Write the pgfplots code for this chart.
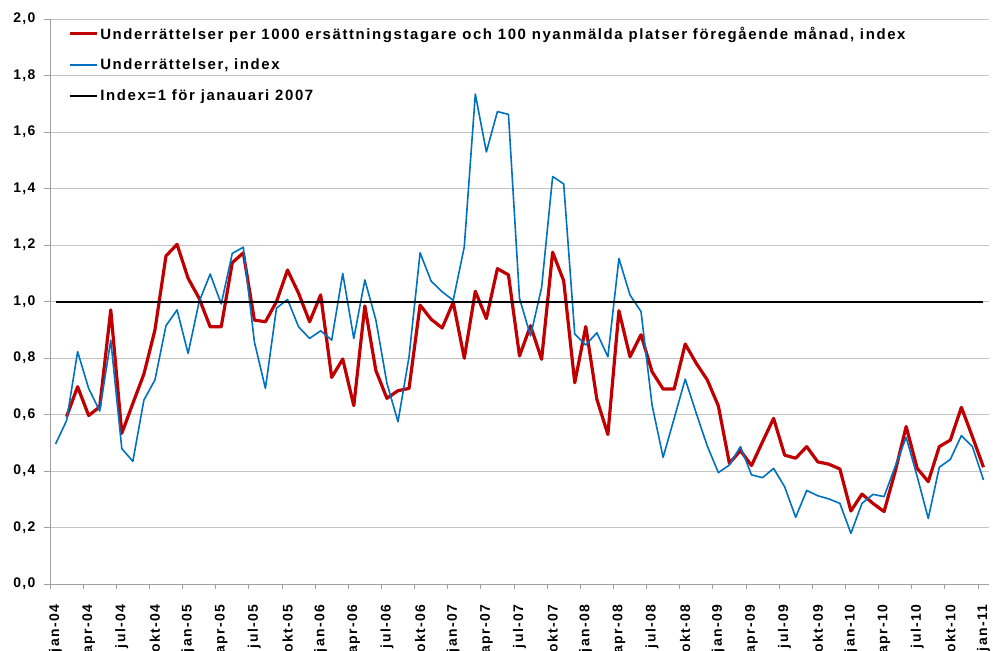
\documentclass[border=0pt]{standalone}
\usepackage{fontspec}
\setmainfont{Liberation Sans}
\newfontfamily\tickfont[LetterSpace=10]{Liberation Sans}
\newfontfamily\legfont[LetterSpace=10.8]{Liberation Sans}
\usepackage{pgfplots}
\usepackage{pgfplotstable}
\pgfplotsset{compat=1.18}
\definecolor{cred}{HTML}{C00000}
\definecolor{cblue}{HTML}{0070C0}
\definecolor{cgrid}{HTML}{C4C4C4}
\definecolor{caxis}{HTML}{A0A0A0}
\pgfplotstableread{
i v
1 0.593
2 0.699
3 0.597
4 0.628
5 0.971
6 0.534
7 0.640
8 0.744
9 0.900
10 1.162
11 1.203
12 1.083
13 1.012
14 0.911
15 0.911
16 1.138
17 1.173
18 0.935
19 0.929
20 1.000
21 1.112
22 1.030
23 0.929
24 1.024
25 0.732
26 0.797
27 0.632
28 0.985
29 0.756
30 0.658
31 0.685
32 0.693
33 0.988
34 0.938
35 0.907
36 0.998
37 0.800
38 1.037
39 0.940
40 1.117
41 1.095
42 0.808
43 0.915
44 0.796
45 1.175
46 1.074
47 0.713
48 0.912
49 0.655
50 0.530
51 0.968
52 0.805
53 0.883
54 0.752
55 0.691
56 0.691
57 0.850
58 0.782
59 0.723
60 0.631
61 0.428
62 0.473
63 0.420
64 0.504
65 0.587
66 0.457
67 0.446
68 0.487
69 0.433
70 0.425
71 0.408
72 0.259
73 0.319
74 0.286
75 0.257
76 0.398
77 0.558
78 0.410
79 0.363
80 0.487
81 0.510
82 0.626
83 0.522
84 0.414
}\redtab
\pgfplotstableread{
i v
0 0.496
1 0.579
2 0.823
3 0.693
4 0.613
5 0.864
6 0.480
7 0.435
8 0.652
9 0.723
10 0.915
11 0.971
12 0.817
13 1.000
14 1.098
15 0.992
16 1.171
17 1.193
18 0.858
19 0.693
20 0.977
21 1.008
22 0.911
23 0.870
24 0.897
25 0.864
26 1.100
27 0.870
28 1.077
29 0.935
30 0.711
31 0.575
32 0.805
33 1.173
34 1.073
35 1.035
36 1.005
37 1.194
38 1.735
39 1.530
40 1.673
41 1.663
42 1.012
43 0.879
44 1.050
45 1.443
46 1.417
47 0.886
48 0.847
49 0.890
50 0.805
51 1.153
52 1.024
53 0.965
54 0.634
55 0.449
56 0.587
57 0.726
58 0.605
59 0.489
60 0.395
61 0.422
62 0.487
63 0.387
64 0.377
65 0.410
66 0.345
67 0.237
68 0.332
69 0.313
70 0.302
71 0.286
72 0.180
73 0.286
74 0.318
75 0.310
76 0.416
77 0.520
78 0.381
79 0.233
80 0.414
81 0.442
82 0.526
83 0.487
84 0.369
}\bluetab
\begin{document}
\begin{tikzpicture}
\begin{axis}[
  scale only axis, width=939bp, height=565bp,
  xmin=-0.5, xmax=84.5, ymin=0, ymax=2,
  axis x line=bottom, axis y line=left,
  x axis line style={-, draw=caxis, line width=0.8bp},
  y axis line style={-, draw=caxis, line width=0.8bp},
  ytick={0,0.2,0.4,0.6,0.8,1,1.2,1.4,1.6,1.8,2},
  ymajorgrids, grid style={cgrid, line width=0.8bp},
  tick align=outside, major tick length=6bp, minor tick length=5bp,
  tick style={caxis, line width=0.8bp},
  every major x tick/.append style={draw=none},
  xtick={0,3,...,84},
  minor xtick={-0.5,2.5,...,83.5},
  xticklabels={jan-04,apr-04,jul-04,okt-04,jan-05,apr-05,jul-05,okt-05,jan-06,apr-06,jul-06,okt-06,jan-07,apr-07,jul-07,okt-07,jan-08,apr-08,jul-08,okt-08,jan-09,apr-09,jul-09,okt-09,jan-10,apr-10,jul-10,okt-10,jan-11},
  xticklabel style={font=\tickfont\bfseries\fontsize{14}{16}\selectfont, rotate=90, anchor=east, xshift=-11bp},
  yticklabel style={font=\tickfont\bfseries\fontsize{14}{16}\selectfont, xshift=-5bp},
  /pgf/number format/.cd, fixed, fixed zerofill, precision=1, use comma, assume math mode=true,
  /pgfplots/.cd,
  legend style={at={(0.017,0.994)}, anchor=north west, draw=none, fill=none,
    font=\legfont\bfseries\fontsize{15}{17}\selectfont, row sep=14.5bp, inner sep=2bp},
  legend cell align=left,
  legend image code/.code={\draw[#1] (0bp,0bp) -- (27bp,0bp);},
]
\addplot[cred, line width=3.2bp, line join=round] table[x=i,y=v]{\redtab};
\addlegendentry{Underrättelser per 1000 ersättningstagare och 100 nyanmälda platser föregående månad, index}
\addplot[cblue, line width=1.6bp, line join=round] table[x=i,y=v]{\bluetab};
\addlegendentry{Underrättelser, index}
\addplot[black, line width=1.8bp] coordinates {(0,1) (84,1)};
\addlegendentry{Index=1 för janauari 2007}
\coordinate (bl) at (rel axis cs:0,0);
\coordinate (tr) at (rel axis cs:1,1);
\end{axis}
\pgfresetboundingbox
\path[use as bounding box] ([xshift=-50bp,yshift=-65.8bp]bl) rectangle ([xshift=7bp,yshift=19.2bp]tr);
\end{tikzpicture}
\end{document}
